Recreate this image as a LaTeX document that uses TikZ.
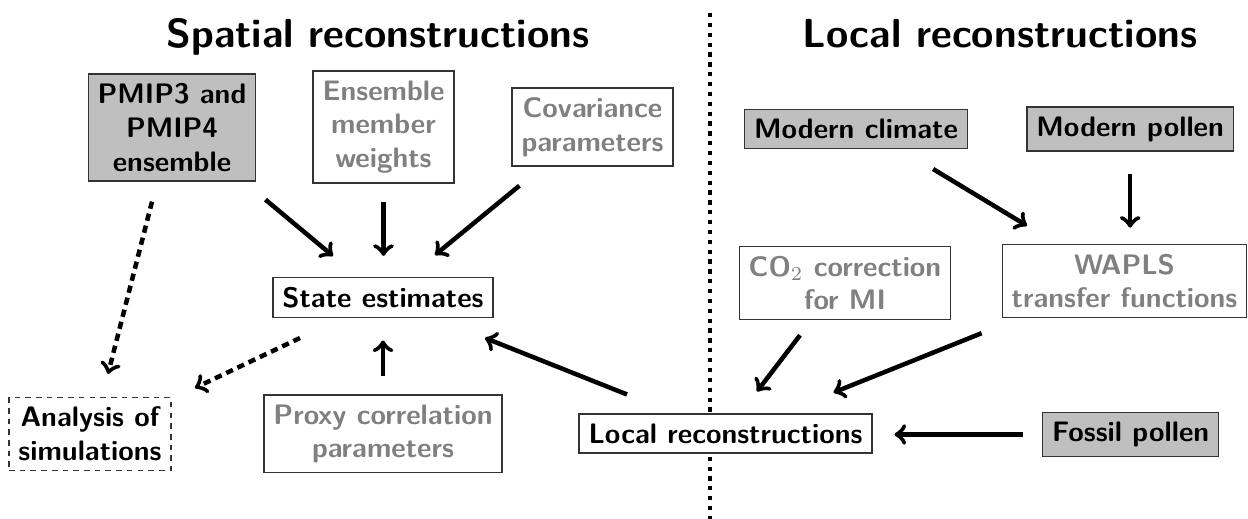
\documentclass[tikz,border=0pt]{standalone}
\begin{document}
\begin{tikzpicture}[x=0.355pt,y=-0.355pt,
    every node/.style={font=\sffamily\bfseries, align=center},
    plainbox/.style={draw=black!80, line width=0.5pt, fill=white},
    databox/.style={plainbox, fill=lightgray},
    parambox/.style={plainbox, text=gray},
    flow/.style={ultra thick, ->},
    simflow/.style={ultra thick, ->, dash pattern=on 2.6pt off 1.8pt}]
    \useasboundingbox (0,0) rectangle (1248,519);
    % divider between the two halves
    \draw[ultra thick, dash pattern=on 1.5pt off 2pt] (710,13) -- (710,519);
    \node[font=\Large\sffamily\bfseries, anchor=base] (spatialtitle) at (378,48) {Spatial reconstructions};
    \node[font=\Large\sffamily\bfseries, anchor=base] (localtitle) at (1000,48) {Local reconstructions};
    % spatial side
    \node[databox]  (pmip)     at (172,127.5) {PMIP3 and\\PMIP4\\ensemble};
    \node[parambox] (weights)  at (383.5,127) {Ensemble\\member\\weights};
    \node[parambox] (cov)      at (592.5,127) {Covariance\\parameters};
    \node[plainbox] (state)    at (383,297.5) {State estimates};
    \node[plainbox, dash pattern=on 2pt off 1.8pt] (analysis) at (90,434) {Analysis of\\simulations};
    \node[parambox] (proxy)    at (383,434)   {Proxy correlation\\parameters};
    % local side
    \node[databox, anchor=west] (climate) at (744,129)  {Modern climate};
    \node[databox, anchor=east] (mpollen) at (1234,129) {Modern pollen};
    \node[parambox] (co2)      at (845,283)    {CO$_2$ correction\\for MI};
    \node[parambox] (wapls)    at (1124.5,281) {WAPLS\\transfer functions};
    \node[plainbox] (local)    at (725.5,433.5) {Local reconstructions};
    \node[databox, anchor=west] (fossil) at (1042,434.5) {Fossil pollen};
    % arrows into the state estimates
    \draw[flow] ([shift={(9,18)}]pmip.south east) -- ([shift={(-50,-21)}]state.north);
    \draw[flow, shorten <=6.7pt, shorten >=7.5pt] (weights.south) -- (weights.south |- state.north);
    \draw[flow] ([shift={(8,19)}]cov.south west) -- ([shift={(52,-22)}]state.north);
    \draw[flow, shorten <=6.7pt, shorten >=8pt] (proxy.north) -- (proxy.north |- state.south);
    \draw[flow] ([shift={(-98.5,-19)}]local.north) -- ([shift={(102,20)}]state.south);
    % simulations only
    \draw[simflow] ([shift={(-83,20)}]state.south) -- ([shift={(105,-9)}]analysis.north);
    \draw[simflow] ([shift={(-20,20)}]pmip.south) -- ([shift={(18,-23)}]analysis.north);
    % local reconstructions
    \draw[flow] ([shift={(-35,20)}]climate.south east) -- ([shift={(-97.5,-18)}]wapls.north);
    \draw[flow, shorten <=7.8pt, shorten >=5.7pt] (mpollen.south) -- (mpollen.south |- wapls.north);
    \draw[flow] ([shift={(-45,15)}]co2.south) -- ([shift={(31.5,-22)}]local.north);
    \draw[flow] ([shift={(-20,15)}]wapls.south west) -- ([shift={(-39,-21)}]local.north east);
    \draw[flow, shorten <=6.7pt, shorten >=7.8pt] (fossil.west) -- (fossil.west -| local.east);
\end{tikzpicture}
\end{document}
